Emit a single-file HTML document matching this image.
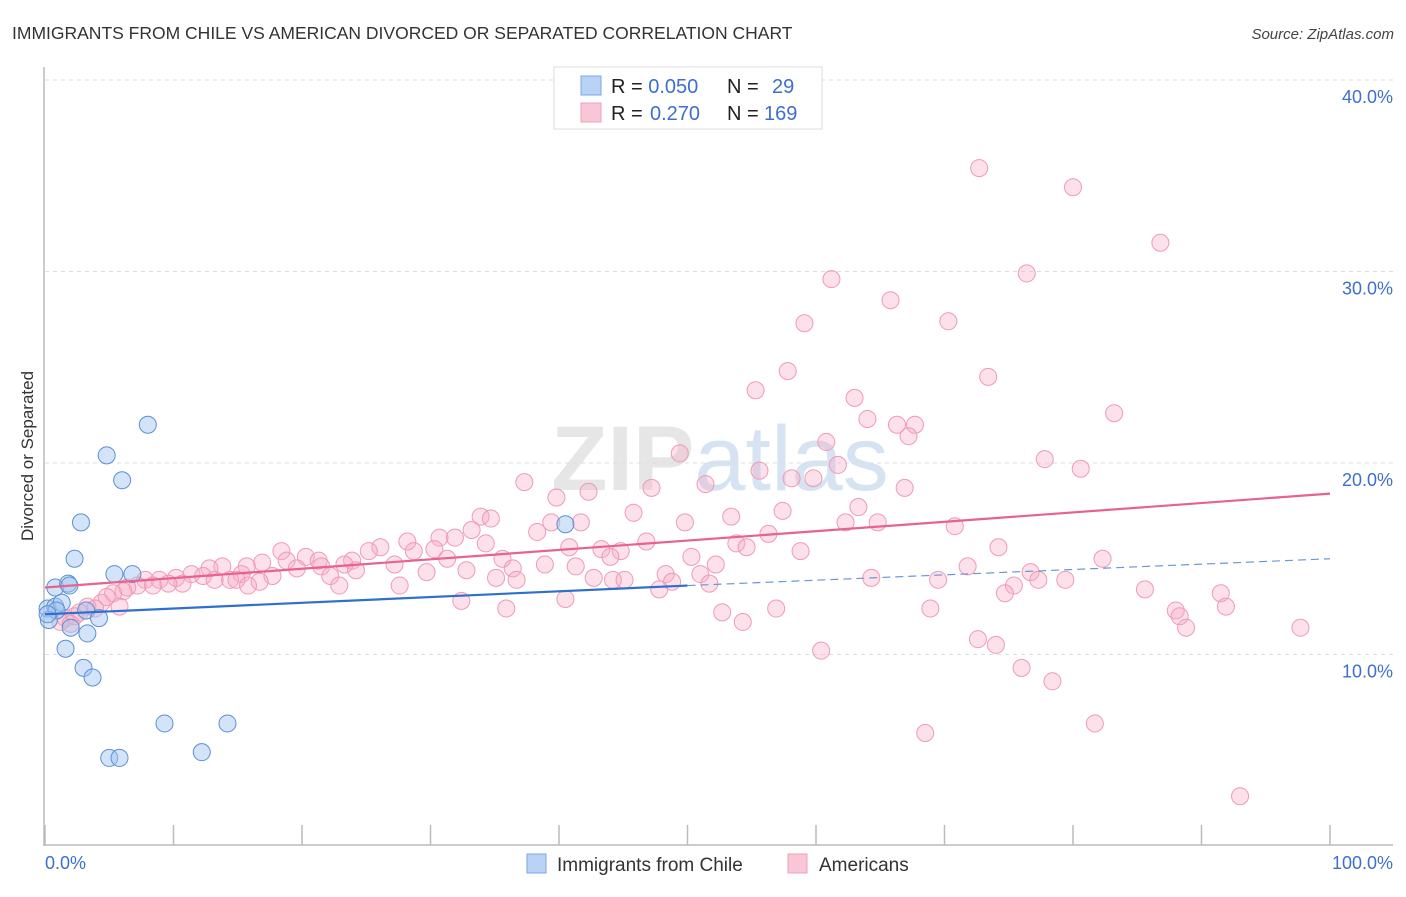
<!DOCTYPE html>
<html><head><meta charset="utf-8"><style>
body{margin:0;background:#fff;font-family:"Liberation Sans",sans-serif}
svg text{font-family:"Liberation Sans",sans-serif}
</style></head><body>
<svg id="c" width="1406" height="892" xmlns="http://www.w3.org/2000/svg">
<text x="12" y="39" font-size="17.5" fill="#333">IMMIGRANTS FROM CHILE VS AMERICAN DIVORCED OR SEPARATED CORRELATION CHART</text>
<text x="1394" y="39" font-size="15" fill="#444" font-style="italic" text-anchor="end">Source: ZipAtlas.com</text>
<text x="720" y="490" font-size="92" fill="#e6e6e6" text-anchor="middle" font-family="Liberation Serif" font-weight="bold">ZIP<tspan fill="#d5e3f3" font-family="Liberation Sans" font-weight="normal">atlas</tspan></text>
<g id="grid"></g>
<g id="axes"></g>
<g id="pts"></g>
<g id="trend"></g>
<text transform="translate(33,456) rotate(-90)" font-size="17" fill="#333" text-anchor="middle">Divorced or Separated</text>
<text x="45" y="869" font-size="18" fill="#3d6fd0">0.0%</text>
<text x="1393" y="869" font-size="18" fill="#3d6fd0" text-anchor="end">100.0%</text>
<g>
<rect x="554" y="67" width="268" height="62" fill="#fff" stroke="#ddd"/>
<rect x="581" y="76" width="20" height="19" fill="#b8d3f5" stroke="#7aa7e3"/>
<rect x="581" y="103" width="20" height="19" fill="#f9c6d5" stroke="#f0a1b9"/>
<text x="611" y="93" font-size="20" fill="#222">R = <tspan fill="#3d6fd0">0.050</tspan><tspan x="727">N =</tspan><tspan x="772" fill="#3d6fd0">29</tspan></text>
<text x="611" y="120" font-size="20" fill="#222">R = <tspan x="650" fill="#3d6fd0">0.270</tspan><tspan x="727">N =</tspan><tspan x="764" fill="#3d6fd0">169</tspan></text>
</g>
<g>
<rect x="527" y="854" width="19" height="19" fill="#b8d3f5" stroke="#7aa7e3"/>
<text x="557" y="871" font-size="19" fill="#333">Immigrants from Chile</text>
<rect x="788" y="854" width="19" height="19" fill="#f9c6d5" stroke="#f0a1b9"/>
<text x="819" y="871" font-size="19" fill="#333">Americans</text>
</g>
</svg>
<script>
const yTicks=[10,20,30,40];
const yTickLabels=["10.0%","20.0%","30.0%","40.0%"];
const xTicks=[0,10,20,30,40,50,60,70,80,90,100];
const blueX=[8.0,4.8,6.0,2.8,2.3,5.4,6.8,0.8,1.8,1.9,0.2,0.8,1.3,0.9,0.3,3.2,4.2,2.0,3.3,1.6,3.0,3.7,9.3,14.2,5.0,5.8,12.2,40.5,0.2];
const blueY=[22.0,20.4,19.1,16.9,15.0,14.2,14.2,13.5,13.7,13.6,12.4,12.5,12.7,12.3,11.8,12.3,11.9,11.4,11.1,10.3,9.3,8.8,6.4,6.4,4.6,4.6,4.9,16.8,12.1];
const pinkX=[72.7,80.0,86.8,61.2,76.4,65.8,59.1,70.3,57.8,73.4,55.3,63.0,83.2,64.0,66.3,67.7,67.2,60.8,49.4,77.8,61.7,80.6,55.6,58.1,59.8,37.3,47.2,66.9,51.4,42.3,39.8,57.4,63.3,45.8,53.4,33.9,34.7,39.4,41.7,49.8,62.3,64.8,70.8,33.2,38.3,56.3,30.7,31.9,46.8,34.3,28.2,26.1,40.8,53.8,54.6,58.8,74.2,43.3,44.8,30.3,28.7,25.2,18.4,20.3,44.0,35.6,31.3,50.3,82.3,18.8,21.3,23.9,16.9,23.3,27.2,38.9,36.4,52.2,71.8,41.3,19.6,21.5,15.7,13.8,12.8,24.2,29.7,32.8,48.3,51.0,76.7,17.7,15.3,11.4,12.3,22.2,35.1,36.7,42.7,44.2,45.1,64.3,69.5,77.3,79.4,10.2,8.9,7.8,14.4,16.7,13.2,10.7,9.6,8.4,7.2,6.4,14.9,48.8,51.7,75.4,27.6,6.1,5.3,22.9,85.6,15.8,47.8,74.7,4.4,4.8,3.3,3.9,2.7,2.3,1.6,1.2,2.0,32.4,40.5,91.5,91.9,35.9,68.9,56.9,52.7,88.0,88.3,88.8,97.7,54.3,72.6,74.0,60.4,76.0,78.4,81.7,68.5,93.0,5.8];
const pinkY=[35.4,34.4,31.5,29.6,29.9,28.5,27.3,27.4,24.8,24.5,23.8,23.4,22.6,22.3,22.0,22.0,21.4,21.1,20.5,20.2,19.9,19.7,19.6,19.2,19.2,19.0,18.7,18.7,18.9,18.5,18.2,17.5,17.7,17.4,17.2,17.2,17.1,16.9,16.9,16.9,16.9,16.9,16.7,16.5,16.4,16.3,16.1,16.1,15.9,15.8,15.9,15.6,15.6,15.8,15.6,15.4,15.6,15.5,15.4,15.5,15.4,15.4,15.4,15.1,15.1,15.0,15.0,15.1,15.0,14.9,14.9,14.9,14.8,14.7,14.7,14.7,14.5,14.7,14.6,14.6,14.5,14.6,14.6,14.6,14.5,14.4,14.3,14.4,14.2,14.2,14.3,14.1,14.2,14.2,14.1,14.1,14.0,13.9,14.0,13.9,13.9,14.0,13.9,13.9,13.9,14.0,13.9,13.9,13.9,13.8,13.9,13.7,13.7,13.6,13.6,13.5,13.9,13.8,13.7,13.6,13.6,13.3,13.2,13.6,13.4,13.6,13.4,13.2,12.7,13.0,12.5,12.4,12.2,12.0,11.9,11.7,11.6,12.8,12.9,13.2,12.5,12.4,12.4,12.4,12.2,12.3,12.0,11.4,11.4,11.7,10.8,10.5,10.2,9.3,8.6,6.4,5.9,2.6,12.5];
const pinkTrendX=[0,100];
const pinkTrendY=[13.5,18.4];
const blueTrendX=[0,50,100];
const blueTrendY=[12.1,13.6,15.0];
const NS='http://www.w3.org/2000/svg';
const xs=v=>45+v*12.85;
const ys=v=>846-v*19.15;
function mk(tag,attrs,parent){const e=document.createElementNS(NS,tag);for(const k in attrs)e.setAttribute(k,attrs[k]);document.getElementById(parent).appendChild(e);return e;}
yTicks.forEach((t,i)=>{
  const l=mk('line',{x1:45,x2:1393,y1:ys(t),y2:ys(t),stroke:'#ddd','stroke-dasharray':'4,4'},'grid');
  
  
  const tx=mk('text',{x:1393,y:ys(t)+23,'font-size':18,fill:'#3d6fd0','text-anchor':'end'},'grid');
  tx.textContent=yTickLabels[i];
  
  
});
const ya=mk('line',{x1:44,x2:44,y1:67,y2:846,stroke:'#bbb','stroke-width':1.5},'axes');


const xa=mk('line',{x1:44,x2:1393,y1:845,y2:845,stroke:'#bbb','stroke-width':1.5},'axes');


xTicks.forEach(t=>{
  const l=mk('line',{x1:xs(t),x2:xs(t),y1:825,y2:845,stroke:'#bbb','stroke-width':1.5},'axes');
  
  
});
pinkX.forEach((x,i)=>{
  const c=mk('circle',{cx:xs(x),cy:ys(pinkY[i]),r:8.5,fill:'rgba(246,170,195,0.35)',stroke:'#f09ab4','stroke-width':1},'pts');
  
  
});
blueX.forEach((x,i)=>{
  const c=mk('circle',{cx:xs(x),cy:ys(blueY[i]),r:8.5,fill:'rgba(160,196,240,0.45)',stroke:'#5b8fd6','stroke-width':1},'pts');
  
  
});
const pt=mk('line',{x1:xs(pinkTrendX[0]),y1:ys(pinkTrendY[0]),x2:xs(pinkTrendX[1]),y2:ys(pinkTrendY[1]),stroke:'#e8628e','stroke-width':2.2},'trend');


const bt=mk('line',{x1:xs(blueTrendX[0]),y1:ys(blueTrendY[0]),x2:xs(blueTrendX[1]),y2:ys(blueTrendY[1]),stroke:'#2f6fd0','stroke-width':2.2},'trend');


const bd=mk('line',{x1:xs(blueTrendX[1]),y1:ys(blueTrendY[1]),x2:xs(blueTrendX[2]),y2:ys(blueTrendY[2]),stroke:'#6b97d8','stroke-width':1.2,'stroke-dasharray':'8,5'},'trend');


</script>
</body></html>
